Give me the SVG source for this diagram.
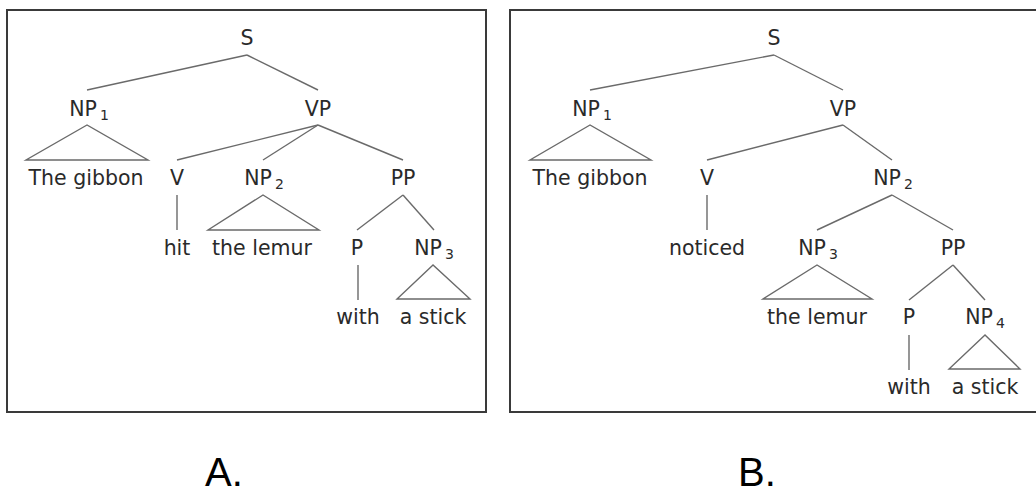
<svg xmlns="http://www.w3.org/2000/svg" width="1036" height="493" viewBox="0 0 1036 493">
<style>
.frame{fill:#fff;stroke:#3a3a3a;stroke-width:2}
.e{stroke:#6a6a6a;stroke-width:1.4;fill:none}
.tri{stroke:#6a6a6a;stroke-width:1.4;fill:none}
text{font-family:"DejaVu Sans",Verdana,sans-serif;font-size:20.5px;fill:#2a2a2a;text-anchor:middle}
.sub{font-size:14px}
.cap{font-family:"Liberation Sans",Arial,sans-serif;font-size:40px;fill:#000}
</style>
<rect width="1036" height="493" fill="#fff"/>
<rect class="frame" x="7" y="10" width="479" height="402"/>
<rect class="frame" x="510" y="10" width="540" height="402"/>
<g id="connectors">
<line class="e" x1="247" y1="55" x2="87" y2="90"/>
<line class="e" x1="247" y1="55" x2="318" y2="90"/>
<polygon class="tri" points="87,125 26,160 148,160"/>
<line class="e" x1="318" y1="125" x2="177" y2="160"/>
<line class="e" x1="318" y1="125" x2="263" y2="160"/>
<line class="e" x1="318" y1="125" x2="403" y2="160"/>
<line class="e" x1="177" y1="195" x2="177" y2="230"/>
<polygon class="tri" points="263,195 208,230 319,230"/>
<line class="e" x1="403" y1="195" x2="357" y2="230"/>
<line class="e" x1="403" y1="195" x2="434" y2="230"/>
<line class="e" x1="358" y1="265" x2="358" y2="300"/>
<polygon class="tri" points="433,265 397,299 470,299"/>
<line class="e" x1="774" y1="55" x2="590" y2="90"/>
<line class="e" x1="774" y1="55" x2="843" y2="90"/>
<polygon class="tri" points="590,125 530,160 651,160"/>
<line class="e" x1="843" y1="125" x2="707" y2="160"/>
<line class="e" x1="843" y1="125" x2="892" y2="160"/>
<line class="e" x1="707" y1="195" x2="707" y2="230"/>
<line class="e" x1="892" y1="195" x2="817" y2="230"/>
<line class="e" x1="892" y1="195" x2="953" y2="230"/>
<polygon class="tri" points="817,265 763,299 872,299"/>
<line class="e" x1="953" y1="265" x2="909" y2="300"/>
<line class="e" x1="953" y1="265" x2="985" y2="300"/>
<line class="e" x1="909" y1="335" x2="909" y2="370"/>
<polygon class="tri" points="985,335 949,369 1020,369"/>
</g>
<g id="treeA">
<g id="a-S"><text x="247" y="45">S</text></g>
<g id="a-NP1"><text x="89" y="116">NP<tspan class="sub" dx="3" dy="4">1</tspan></text></g>
<g id="a-VP"><text x="318" y="116">VP</text></g>
<g id="a-gibbon"><text x="86" y="185">The gibbon</text></g>
<g id="a-V"><text x="177" y="185">V</text></g>
<g id="a-NP2"><text x="264" y="185">NP<tspan class="sub" dx="3" dy="4">2</tspan></text></g>
<g id="a-PP"><text x="403" y="185">PP</text></g>
<g id="a-hit"><text x="177" y="255">hit</text></g>
<g id="a-lemur"><text x="262" y="255">the lemur</text></g>
<g id="a-P"><text x="357" y="255">P</text></g>
<g id="a-NP3"><text x="434" y="255">NP<tspan class="sub" dx="3" dy="4">3</tspan></text></g>
<g id="a-with"><text x="358" y="324">with</text></g>
<g id="a-stick"><text x="433" y="324">a stick</text></g>
</g>
<g id="treeB">
<g id="b-S"><text x="774" y="45">S</text></g>
<g id="b-NP1"><text x="592" y="116">NP<tspan class="sub" dx="3" dy="4">1</tspan></text></g>
<g id="b-VP"><text x="843" y="116">VP</text></g>
<g id="b-gibbon"><text x="590" y="185">The gibbon</text></g>
<g id="b-V"><text x="707" y="185">V</text></g>
<g id="b-NP2"><text x="893" y="185">NP<tspan class="sub" dx="3" dy="4">2</tspan></text></g>
<g id="b-noticed"><text x="707" y="255">noticed</text></g>
<g id="b-NP3"><text x="818" y="255">NP<tspan class="sub" dx="3" dy="4">3</tspan></text></g>
<g id="b-PP"><text x="953" y="255">PP</text></g>
<g id="b-lemur"><text x="817" y="324">the lemur</text></g>
<g id="b-P"><text x="909" y="324">P</text></g>
<g id="b-NP4"><text x="985" y="324">NP<tspan class="sub" dx="3" dy="4">4</tspan></text></g>
<g id="b-with"><text x="909" y="394">with</text></g>
<g id="b-stick"><text x="985" y="394">a stick</text></g>
</g>
<g id="captions">
<text class="cap" x="224" y="486">A.</text>
<text class="cap" x="757" y="486">B.</text>
</g>
</svg>
